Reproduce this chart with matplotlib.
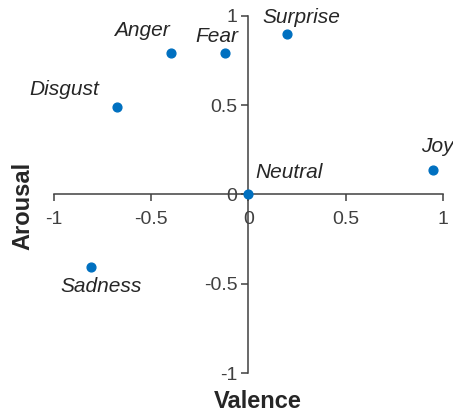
import matplotlib.pyplot as plt

plt.rcParams['font.family'] = ['Liberation Sans', 'DejaVu Sans']

# emotion points on the valence/arousal plane
emotions = ["Anger", "Fear", "Surprise", "Disgust", "Joy", "Neutral", "Sadness"]
valence = [-0.40, -0.12, 0.20, -0.675, 0.95, 0.0, -0.81]
arousal = [0.79, 0.79, 0.90, 0.49, 0.135, 0.0, -0.405]

# where each label sits relative to its point (data units)
label_dx = [-0.15, -0.045, 0.07, -0.27, 0.02, 0.21, 0.055]
label_dy = [0.125, 0.095, 0.09, 0.10, 0.135, 0.125, -0.11]

ticks = [-1, -0.5, 0, 0.5, 1]
tick_labels = ["-1", "-0.5", "0", "0.5", "1"]

fig = plt.figure(figsize=(4.53, 4.16), dpi=100)
ax = fig.add_axes([0.119, 0.103, 0.859, 0.859])

ax.scatter(valence, arousal, s=40, color="#0070C0", zorder=3, clip_on=False)

for name, x, y, dx, dy in zip(emotions, valence, arousal, label_dx, label_dy):
    ax.text(x + dx, y + dy, name, ha="center", va="center", style="italic",
            fontsize=15, color="#262626", clip_on=False)

ax.set_xlim(-1, 1)
ax.set_ylim(-1, 1)

# axes cross at the origin
ax.spines["left"].set_position(("data", 0))
ax.spines["bottom"].set_position(("data", 0))
ax.spines["right"].set_visible(False)
ax.spines["top"].set_visible(False)
for side in ["left", "bottom"]:
    ax.spines[side].set_color("#404040")
    ax.spines[side].set_linewidth(1.1)

ax.set_xticks(ticks)
ax.set_xticklabels(tick_labels)
ax.set_yticks(ticks)
ax.set_yticklabels(tick_labels)
ax.tick_params(axis="both", direction="out", length=5, width=1.1,
               color="#404040", labelsize=14, labelcolor="#404040")
ax.tick_params(axis="x", pad=7)
ax.tick_params(axis="y", pad=3)

fig.text(0.57, 0.034, "Valence", ha="center", va="center",
         fontsize=17, fontweight="bold", color="#262626")
fig.text(0.05, 0.505, "Arousal", ha="center", va="center", rotation=90,
         fontsize=17, fontweight="bold", color="#262626")

fig.savefig("out.png", dpi=100)
